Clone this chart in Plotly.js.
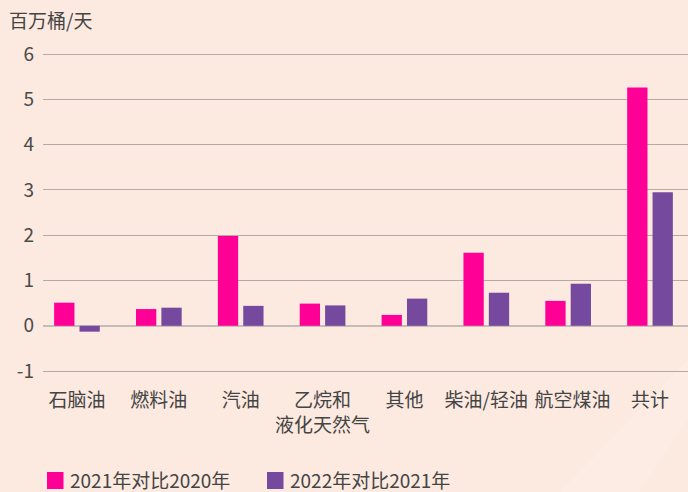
<!DOCTYPE html>
<html>
<head>
<meta charset="utf-8">
<script src="https://cdn.plot.ly/plotly-3.0.1.min.js"></script>
<style>html,body{margin:0;padding:0;background:#fce9df;}</style>
</head>
<body>
<div id="chart" style="width:688px;height:492px;"></div>
<script>
const categories = ["石脑油", "燃料油", "汽油", "乙烷和<br>液化天然气", "其他", "柴油/轻油", "\u00a0\u00a0航空煤油", "共计"];
const series2021vs2020 = [0.51, 0.37, 1.98, 0.49, 0.24, 1.61, 0.55, 5.26];
const series2022vs2021 = [-0.13, 0.40, 0.44, 0.45, 0.60, 0.73, 0.93, 2.95];
const seriesNames = ["2021年对比2020年", "2022年对比2021年"];
const seriesColors = ["#ff0097", "#754a9e"];
const yTickVals = [-1, 0, 1, 2, 3, 4, 5, 6];
const yUnit = "百万桶/天";

const font = "Noto Sans CJK SC, Noto Sans, sans-serif";
const W = 688, H = 492, ML = 43, MR = 0, MT = 31, MB = 107;
const PW = W - ML - MR, PH = H - MT - MB;
// helpers converting pixel positions into paper fractions for the legend layout
const px = v => (v - ML) / PW;
const py = v => (H - MB - v) / PH;

const traces = [
  {type: "bar", x: categories, y: series2021vs2020, name: seriesNames[0],
   marker: {color: seriesColors[0]}, showlegend: false},
  {type: "bar", x: categories, y: series2022vs2021, name: seriesNames[1],
   marker: {color: seriesColors[1]}, showlegend: false}
];

const legendItems = [{sx: 47, tx: 71}, {sx: 267, tx: 291}];
const shapes = [
  {type: "path", xref: "paper", yref: "paper", layer: "below",
   path: `M ${px(560)} ${py(492)} L ${px(688)} ${py(360)} L ${px(688)} ${py(420)} L ${px(640)} ${py(492)} Z`,
   fillcolor: "rgba(255,255,255,0.15)", line: {width: 0}}
];
const annotations = [
  {text: yUnit, xref: "paper", yref: "paper", x: px(7), y: py(19),
   xanchor: "left", yanchor: "middle", showarrow: false,
   font: {size: 19, color: "#444"}}
];
legendItems.forEach((it, i) => {
  shapes.push({type: "rect", xref: "paper", yref: "paper",
    x0: px(it.sx), x1: px(it.sx + 16.5), y0: py(472), y1: py(489),
    fillcolor: seriesColors[i], line: {width: 0}});
  annotations.push({text: seriesNames[i], xref: "paper", yref: "paper",
    x: px(it.tx - 2), y: py(479.5), xanchor: "left", yanchor: "middle",
    showarrow: false, borderpad: 0, font: {size: 19, color: "#444"}});
});

const layout = {
  width: W, height: H,
  paper_bgcolor: "#fce9df", plot_bgcolor: "rgba(0,0,0,0)",
  margin: {l: ML, r: MR, t: MT, b: MB},
  font: {family: font, color: "#444", size: 19},
  barmode: "group", bargap: 0.38, bargroupgap: 0.2,
  xaxis: {
    range: [-0.415, 7.464], showgrid: false, zeroline: false, showline: false,
    ticks: "", tickangle: 0, tickfont: {size: 19, color: "#444"}, ticklabelstandoff: 2
  },
  yaxis: {
    range: [-1.307, 6.508], tickvals: yTickVals, ticktext: yTickVals.map(String),
    showgrid: true, gridcolor: "#b3aaa6", gridwidth: 1,
    zeroline: true, zerolinecolor: "#c6bcb7", zerolinewidth: 2,
    showline: false, ticks: "", tickfont: {size: 19, color: "#4a4a4a"},
    ticklabelstandoff: 8
  },
  showlegend: false,
  shapes: shapes,
  annotations: annotations
};

Plotly.newPlot("chart", traces, layout, {displayModeBar: false, staticPlot: true});
</script>
</body>
</html>
